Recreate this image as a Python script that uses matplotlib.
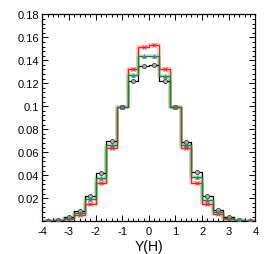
import numpy as np
import matplotlib.pyplot as plt
from matplotlib.ticker import MultipleLocator, FuncFormatter

plt.rcParams['font.family'] = ['Liberation Sans', 'DejaVu Sans']

# bin edges of Y(H), 20 bins of 0.4
edges = np.linspace(-4, 4, 21)
centers = 0.5 * (edges[:-1] + edges[1:])

black = [0.0002, 0.0008, 0.0033, 0.0092, 0.0218, 0.0422, 0.0694, 0.0990, 0.1220, 0.1353,
         0.1355, 0.1220, 0.0990, 0.0690, 0.0427, 0.0215, 0.0093, 0.0038, 0.0008, 0.0002]
green = [0.0001, 0.0006, 0.0030, 0.0074, 0.0190, 0.0377, 0.0665, 0.0990, 0.1270, 0.1440,
         0.1435, 0.1266, 0.0990, 0.0660, 0.0383, 0.0186, 0.0076, 0.0030, 0.0006, 0.0001]
red = [0.0001, 0.0004, 0.0018, 0.0056, 0.0145, 0.0330, 0.0639, 0.0996, 0.1320, 0.1518,
       0.1530, 0.1320, 0.0996, 0.0640, 0.0334, 0.0151, 0.0058, 0.0020, 0.0004, 0.0001]

fig = plt.figure(figsize=(2.66, 2.55), dpi=100)
ax = fig.add_axes([0.159, 0.129, 0.801, 0.814])


def step(vals):
    return np.append(vals, vals[-1])


# shaded bands behind red and green
ax.step(edges, step(red), where='post', color='#ff9090', lw=2.6, alpha=0.5, zorder=1)
ax.step(edges, step(green), where='post', color='#9fd89f', lw=2.6, alpha=0.6, zorder=1)

ax.step(edges, step(black), where='post', color='black', lw=0.9, zorder=2)
ax.plot(centers, black, 'o', ms=3.0, mfc='#aaaaaa', mec='#444444', mew=0.6, zorder=5)

ax.step(edges, step(red), where='post', color='#ff2020', lw=0.9, zorder=3)
ax.plot(centers, red, 'x', ms=3.0, color='#ff2020', mew=0.7, zorder=5)

ax.step(edges, step(green), where='post', color='#1f7f2a', lw=0.9, zorder=4)
ax.plot(centers, green, '^', ms=2.8, mfc='#3b6fd6', mec='#2f9a6a', mew=0.4, zorder=6)

ax.set_xlim(-4, 4)
ax.set_ylim(0, 0.1807)
ax.xaxis.set_major_locator(MultipleLocator(1))
ax.xaxis.set_minor_locator(MultipleLocator(0.2))
ax.yaxis.set_major_locator(MultipleLocator(0.02))
ax.yaxis.set_minor_locator(MultipleLocator(0.004))


def yfmt(v, pos):
    if v < 1e-9:
        return ''
    return ('%.2f' % v).rstrip('0')


ax.yaxis.set_major_formatter(FuncFormatter(yfmt))
ax.xaxis.set_major_formatter(FuncFormatter(lambda v, p: '%d' % round(v)))

ax.tick_params(which='both', direction='in', top=True, right=True, labelsize=8, width=0.7)
ax.tick_params(which='major', length=4.5)
ax.tick_params(which='minor', length=2.2)
ax.tick_params(axis='x', pad=3.5)
ax.tick_params(axis='y', pad=2.5)
for s in ax.spines.values():
    s.set_linewidth(0.9)

ax.set_xlabel('Y(H)', fontsize=10, labelpad=2)

fig.savefig('out.png', dpi=100)
